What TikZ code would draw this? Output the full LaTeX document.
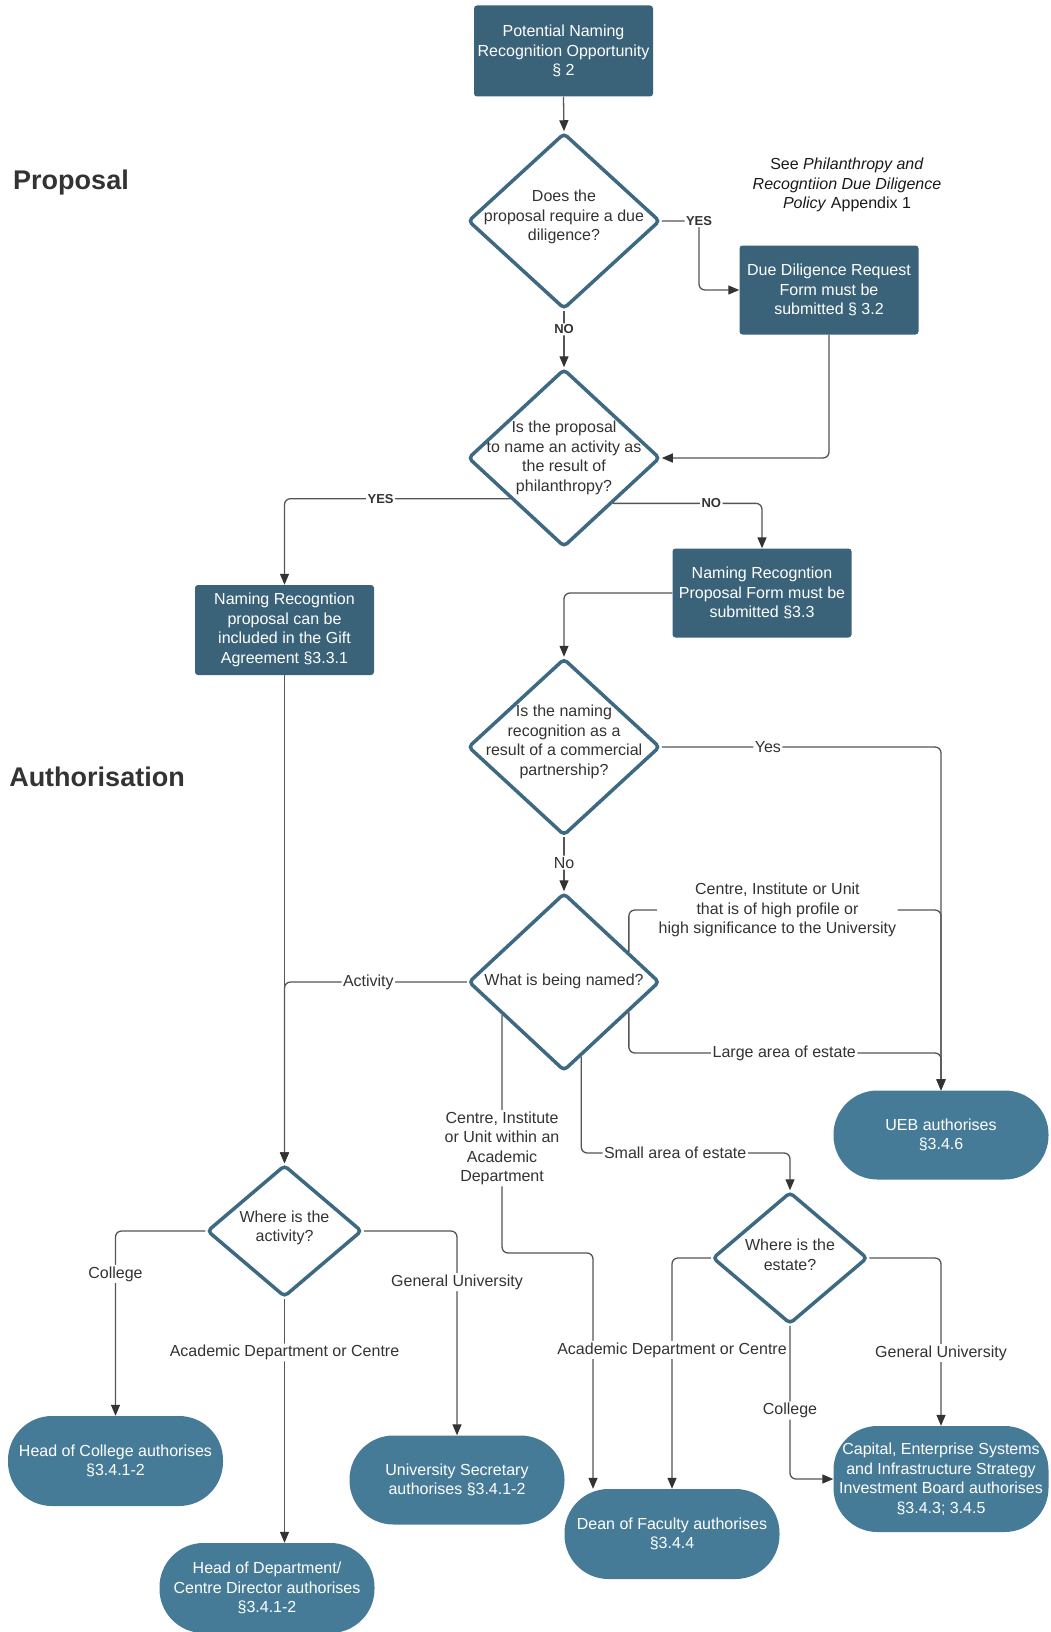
\documentclass[tikz,border=0pt]{standalone}
\usepackage{fontspec}
\setmainfont{Liberation Sans}
\usetikzlibrary{shapes.geometric,arrows.meta}
\definecolor{boxdark}{HTML}{3A6379}
\definecolor{boxlight}{HTML}{467B98}
\definecolor{diaedge}{HTML}{3D6A82}
\definecolor{ink}{HTML}{333333}
\definecolor{wirecol}{HTML}{555555}
\tikzset{
  procbox/.style={rectangle, rounded corners=3pt, fill=boxdark, text=white,
    minimum width=179pt, minimum height=90pt, inner sep=0pt, align=center,
    font=\fontsize{16}{19.5}\selectfont},
  endbox/.style={rectangle, rounded corners=44pt, fill=boxlight, text=white,
    minimum width=215pt, minimum height=90pt, inner sep=0pt, align=center,
    font=\fontsize{16}{19.5}\selectfont},
  decision/.style={diamond, draw=diaedge, line width=3.5pt, rounded corners=4pt,
    fill=white, inner sep=0pt, minimum width=192pt, minimum height=178pt},
  smalldecision/.style={decision, minimum width=155pt, minimum height=132pt},
  qtext/.style={text=ink, align=center, inner sep=0pt,
    font=\fontsize{16}{19.5}\selectfont},
  flow/.style={draw=wirecol, line width=1.3pt, rounded corners=6pt,
    -{Triangle[length=11pt,width=9pt,color=ink]}},
  elabel/.style={fill=white, text=ink, inner sep=1.5pt, align=center,
    font=\fontsize{16}{19.5}\selectfont},
  yn/.style={elabel, font=\bfseries\fontsize{13}{15}\selectfont},
  heading/.style={text=ink, font=\bfseries\fontsize{27}{32}\selectfont}
}

\begin{document}
\begin{tikzpicture}[x=1pt,y=-1pt]
  \useasboundingbox (0,0) rectangle (1050,1632);

  \node[heading] (hProposal) at (71,183) {Proposal};
  \node[heading] (hAuth) at (97,777) {Authorisation};
  \node[text=black!90, align=center, font=\fontsize{16}{19.5}\selectfont] (ddNote) at (847,185)
    {See \textit{Philanthropy and}\\\textit{Recogntiion Due Diligence}\\\textit{Policy} Appendix 1};

  \node[procbox, minimum height=91pt] (start) at (563.5,51) {Potential Naming\\Recognition Opportunity\\\S\ 2};
  \node[procbox, minimum height=89pt] (dd) at (829,290) {Due Diligence Request\\Form must be\\submitted \S\ 3.2};
  \node[procbox, minimum height=89pt] (nrp) at (762,593) {Naming Recogntion\\Proposal Form must be\\submitted \S3.3};
  \node[procbox] (gift) at (284.5,630) {Naming Recogntion\\proposal can be\\included in the Gift\\Agreement \S3.3.1};

  \node[decision, minimum height=176pt, label={[qtext, yshift=4pt]center:{Does the\\proposal require a due\\diligence?}}] (q1) at (564,221) {};
  \node[decision, label={[qtext]center:{Is the proposal\\to name an activity as\\the result of\\philanthropy?}}] (q2) at (564,458) {};
  \node[decision, minimum height=177pt, label={[qtext, yshift=5pt]center:{Is the naming\\recognition as a\\result of a commercial\\partnership?}}] (q3) at (564,747) {};
  \node[decision, minimum width=191pt, label={[qtext, yshift=1pt]center:{What is being named?}}] (q4) at (564,982) {};
  \node[smalldecision, label={[qtext, yshift=3pt]center:{Where is the\\activity?}}] (q5) at (284.5,1231) {};
  \node[smalldecision, label={[qtext, yshift=3pt]center:{Where is the\\estate?}}] (q6) at (790,1258) {};

  \node[endbox, minimum height=89pt] (ueb) at (941,1135) {UEB authorises\\\S3.4.6};
  \node[endbox] (hoc) at (115.5,1461) {Head of College authorises\\\S3.4.1-2};
  \node[endbox, minimum height=89pt] (us) at (457,1480) {University Secretary\\authorises \S3.4.1-2};
  \node[endbox] (hod) at (267,1588) {Head of Department/\\Centre Director authorises\\\S3.4.1-2};
  \node[endbox] (dean) at (672,1534) {Dean of Faculty authorises\\\S3.4.4};
  \node[endbox, minimum height=106pt] (cap) at (941,1479) {Capital, Enterprise Systems\\and Infrastructure Strategy\\Investment Board authorises\\\S3.4.3; 3.4.5};

  \coordinate (yesTurn) at (699,221);
  \coordinate (hpTurn) at (941,910);
  \coordinate (largeTurn) at (941,1053);
  \coordinate (acTurn) at (593,1253);
  \coordinate (smallTurn) at (790,1153);

  \draw[flow] (start.south) -- (q1.north);
  \draw[flow] (q1.east) -- (yesTurn) node[yn] (lYes1) {YES} |- (dd.west);
  \draw[flow] (q1.south) -- node[yn, pos=0.33] (lNo1) {NO} (q2.north);
  \draw[flow] (dd.south) |- (q2.east);
  \draw[flow] (q2.217) -| node[yn, pos=0.287] (lYes2) {YES} (gift.north);
  \draw[flow] (q2.south east) -| node[yn, pos=0.33] (lNo2) {NO} (nrp.north);
  \draw[flow] (nrp.west) -| (q3.north);
  \draw[flow] (gift.south) -- (q5.north);
  \draw[flow] (q3.east) -| node[elabel, pos=0.19] (lYes3) {Yes} (ueb.north);
  \draw[flow] (q3.south) -- node[elabel, pos=0.47] (lNo3) {No} (q4.north);
  \draw[flow] (q4.25) |- node[elabel, pos=0.738] (lHigh) {Centre, Institute or Unit\\that is of high profile or\\high significance to the University} (hpTurn) -- (ueb.north);
  \draw[flow] (q4.-25) |- node[elabel, pos=0.749] (lLarge) {Large area of estate} (largeTurn) -- (ueb.north);
  \draw[flow] (q4.west) -| node[elabel, pos=0.27] (lAct) {Activity} (q5.north);
  \draw[flow] (q4.208) |- node[elabel, pos=0.28] (lWithin) {Centre, Institute\\or Unit within an\\Academic\\Department} (acTurn) -- (acTurn |- dean.north);
  \draw[flow] (q4.-77) |- node[elabel, pos=0.725] (lSmall) {Small area of estate} (smallTurn) -- (q6.north);
  \draw[flow] (q5.west) -| node[elabel, pos=0.616] (lColl1) {College} (hoc.north);
  \draw[flow] (q5.south) -- node[elabel, pos=0.22] (lDept1) {Academic Department or Centre} (q5.south |- hod.north);
  \draw[flow] (q5.east) -| node[elabel, pos=0.625] (lGen1) {General University} (us.north);
  \draw[flow] (q6.west) -| node[elabel, pos=0.699] (lDept2) {Academic Department or Centre} (dean.north);
  \draw[flow] (q6.south) |- node[elabel, pos=0.277] (lColl2) {College} (cap.west);
  \draw[flow] (q6.east) -| node[elabel, pos=0.783] (lGen2) {General University} (cap.north);
\end{tikzpicture}
\end{document}
